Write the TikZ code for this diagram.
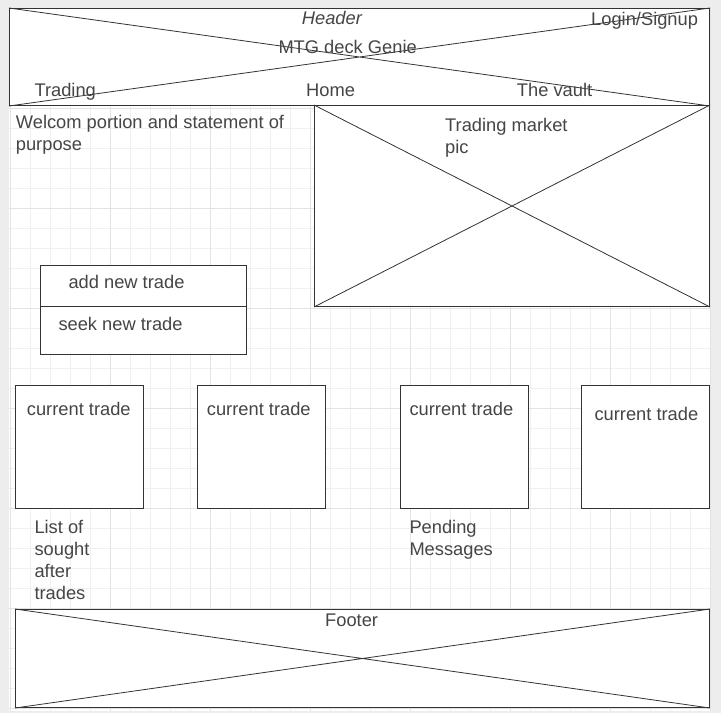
\documentclass[tikz,border=0pt]{standalone}
\usepackage{fontspec}
\setmainfont{Liberation Sans}
\usepackage{tikz}

\definecolor{ink}{HTML}{333333}
\definecolor{txt}{HTML}{454545}
\definecolor{minorgrid}{HTML}{F0F0F0}
\definecolor{majorgrid}{HTML}{E3E3E3}
\definecolor{outside}{HTML}{EDEDED}

\begin{document}
\begin{tikzpicture}[x=1pt,y=-1pt,
  box/.style={draw=ink,fill=white,line width=1pt,inner sep=0pt,anchor=north west},
  cross/.style={draw=ink,line width=0.8pt},
  lbl/.style={text=txt,inner sep=0pt,anchor=base west,align=left,font=\fontsize{18.3}{22}\selectfont}]
\useasboundingbox[fill=outside] (0,0) rectangle (721,713);
\fill[white] (9,8) rectangle (711,711);
\foreach \x in {10,30,...,710}{
	\draw[minorgrid,line width=0.8pt] (\x,8) -- (\x,711);
}
\foreach \y in {8,28,...,708}{
	\draw[minorgrid,line width=0.8pt] (9,\y) -- (711,\y);
}
\foreach \x in {10,110,...,710}{
	\draw[majorgrid,line width=0.8pt] (\x,8) -- (\x,711);
}
\foreach \y in {8,108,...,708}{
	\draw[majorgrid,line width=0.8pt] (9,\y) -- (711,\y);
}

\node[box,minimum width=700,minimum height=97] (head) at (9,8) {};
\node[box,minimum width=395,minimum height=201] (market) at (314,105) {};
\node[box,minimum width=206,minimum height=41] (add) at (40,265) {};
\node[box,minimum width=206,minimum height=48] (seek) at (40,306) {};
\node[box,minimum width=128,minimum height=123] (tradeA) at (15,385) {};
\node[box,minimum width=128,minimum height=123] (tradeB) at (197,385) {};
\node[box,minimum width=128,minimum height=123] (tradeC) at (400,385) {};
\node[box,minimum width=128,minimum height=123] (tradeD) at (581,385) {};
\node[box,minimum width=694,minimum height=98] (foot) at (15,609) {};

\foreach \b in {head,market,foot}{
	\draw[cross] (\b.north west) -- (\b.south east) (\b.south west) -- (\b.north east);
}

\node[lbl] (hdr) at (301.7,24.5) {\itshape Header};
\node[lbl] (genie) at (278.3,53.5) {MTG deck Genie};
\node[lbl] (login) at (591,25) {Login/Signup};
\node[lbl] (trading) at (34.3,96.3) {Trading};
\node[lbl] (home) at (306,96.3) {Home};
\node[lbl] (vault) at (516.7,96.3) {The vault};
\node[lbl] (welcome) at (15.7,150) {Welcom portion and statement of\\purpose};
\node[lbl] (marketpic) at (445,153.5) {Trading market\\pic};
\node[lbl] (addtxt) at (68.3,288.5) {add new trade};
\node[lbl] (seektxt) at (58.3,330) {seek new trade};
\node[lbl] (curA) at (26.7,415.5) {current trade};
\node[lbl] (curB) at (206.7,415.5) {current trade};
\node[lbl] (curC) at (409.3,415.5) {current trade};
\node[lbl] (curD) at (594.3,420.5) {current trade};
\node[lbl] (sought) at (34.3,599.5) {List of\\sought\\after\\trades};
\node[lbl] (pending) at (409.3,555.5) {Pending\\Messages};
\node[lbl] (ftr) at (325,626) {Footer};
\end{tikzpicture}
\end{document}
